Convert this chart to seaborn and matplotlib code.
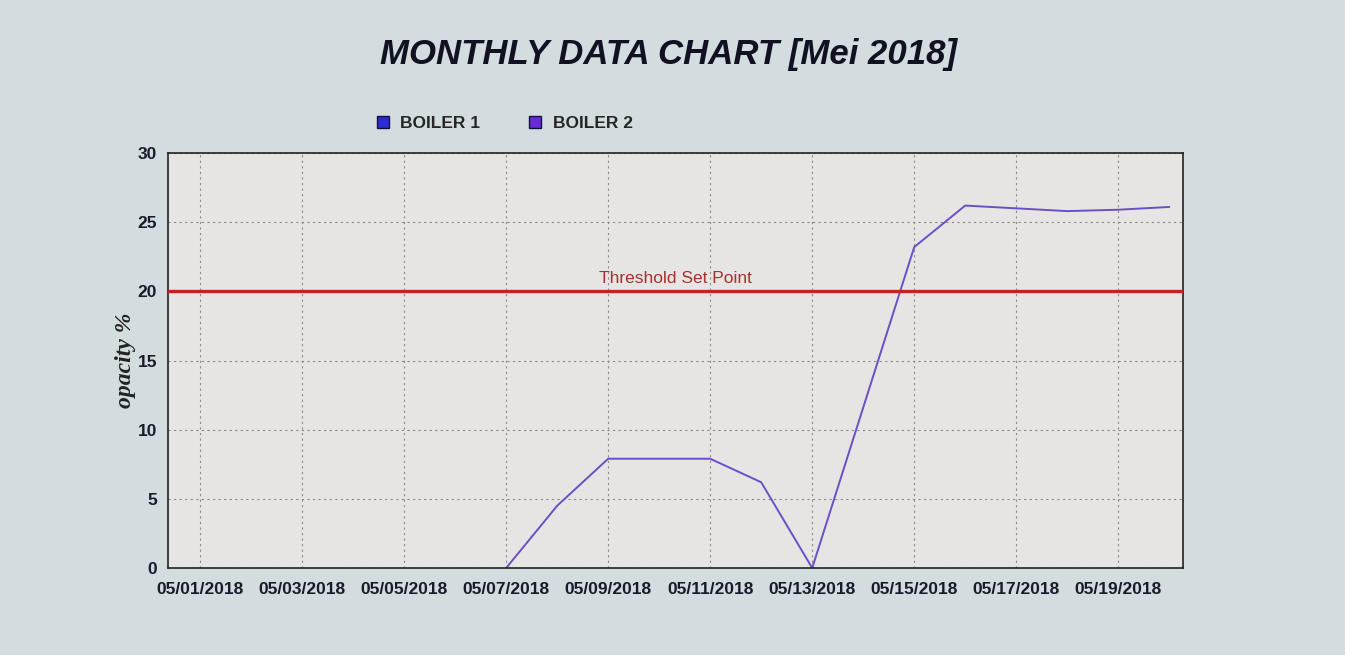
import pandas as pd
import numpy as np
import matplotlib
matplotlib.use("Agg")
import matplotlib.pyplot as plt
import matplotlib.dates as mdates
from matplotlib.lines import Line2D
import seaborn as sns

# data
dates = ["2018-05-07", "2018-05-08", "2018-05-09", "2018-05-10", "2018-05-11",
         "2018-05-12", "2018-05-13", "2018-05-14", "2018-05-15", "2018-05-16",
         "2018-05-17", "2018-05-18", "2018-05-19", "2018-05-20"]
boiler2 = [0.0, 4.5, 7.9, 7.9, 7.9, 6.2, 0.0, 11.6, 23.2, 26.2, 26.0, 25.8, 25.9, 26.1]
threshold = 20
tick_dates = pd.date_range("2018-05-01", "2018-05-19", freq="2D")

df = pd.DataFrame({"date": pd.to_datetime(dates), "opacity": boiler2})

sns.set_style("white")
plt.rcParams["font.family"] = ["Liberation Sans", "DejaVu Sans"]

fig = plt.figure(figsize=(13.45, 6.55), dpi=100, facecolor="#d3dcdf")
ax = fig.add_axes([0.1249, 0.1328, 0.7547, 0.6336])
ax.set_facecolor("#e7e5e3")

sns.lineplot(data=df, x="date", y="opacity", ax=ax, color="#6a4fc8", linewidth=1.4)
ax.axhline(threshold, color="#cc2020", linewidth=2.4, zorder=3)
ax.text(pd.Timestamp("2018-05-10 07:30"), threshold + 0.4, "Threshold Set Point",
        color="#a83030", fontsize=12.5, ha="center", va="bottom")

ax.set_ylim(0, 30)
ax.set_yticks([0, 5, 10, 15, 20, 25, 30])
ax.set_xlim(pd.Timestamp("2018-05-01") - pd.Timedelta(days=0.63),
            pd.Timestamp("2018-05-20 06:30"))
ax.set_xticks(tick_dates)
ax.xaxis.set_major_formatter(mdates.DateFormatter("%m/%d/%Y"))
ax.grid(True, color="#8a8a8a", linestyle=(0, (2, 3)), linewidth=0.8)
ax.tick_params(axis="both", length=0, labelsize=12.5)
ax.tick_params(axis="x", pad=10)
ax.tick_params(axis="y", pad=8)
for lbl in ax.get_xticklabels() + ax.get_yticklabels():
    lbl.set_fontweight("bold")
    lbl.set_color("#1a1a2a")
for s in ax.spines.values():
    s.set_color("#222222")
    s.set_linewidth(1.2)

ax.set_xlabel("")
ax.set_ylabel("opacity %", family="Liberation Serif", fontsize=17,
              fontweight="bold", style="italic", labelpad=1, color="#222222")

fig.text(0.497, 0.917, "MONTHLY DATA CHART [Mei 2018]", ha="center", va="center",
         fontsize=25, fontweight="bold", style="italic", color="#111122")

handles = [Line2D([], [], marker="s", linestyle="", markersize=9,
                  markerfacecolor="#2b2bd6", markeredgecolor="#111144", label="BOILER 1"),
           Line2D([], [], marker="s", linestyle="", markersize=9,
                  markerfacecolor="#6a2bd6", markeredgecolor="#111144", label="BOILER 2")]
fig.legend(handles=handles, loc="center", bbox_to_anchor=(0.371, 0.811), ncol=2,
           frameon=False, handletextpad=0.0, columnspacing=2.2,
           prop={"weight": "bold", "size": 12.5})

fig.savefig("out.png", dpi=100, facecolor=fig.get_facecolor())
